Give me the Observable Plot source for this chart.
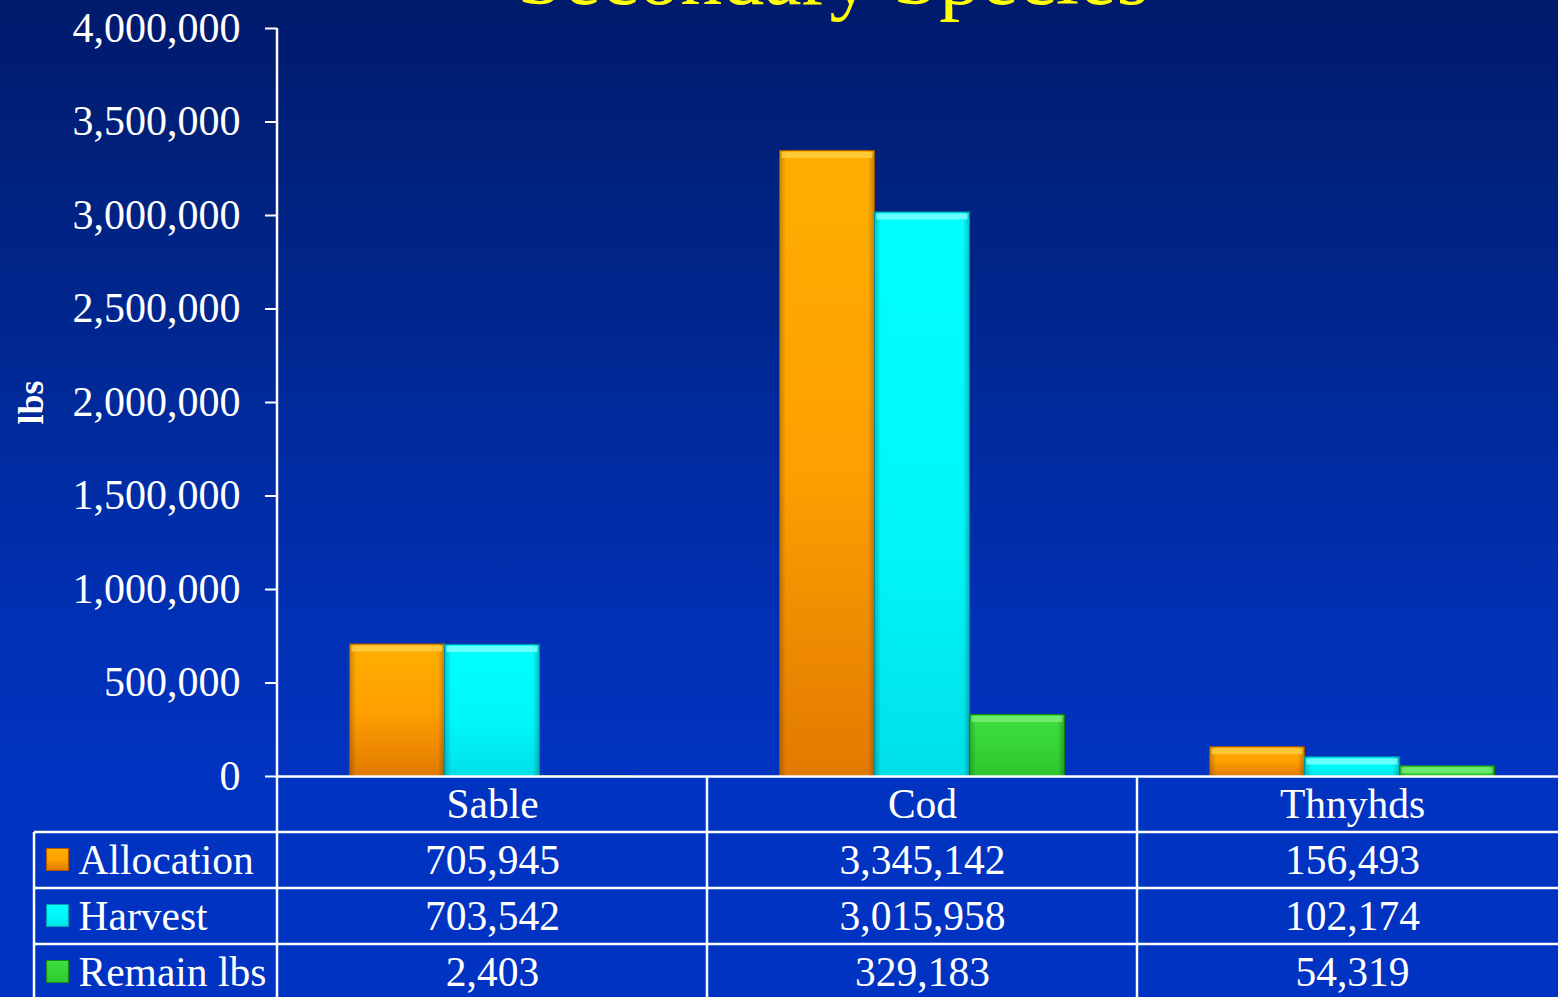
<!DOCTYPE html>
<html>
<head>
<meta charset="utf-8">
<script src="https://cdn.jsdelivr.net/npm/d3@7"></script>
<script src="https://cdn.jsdelivr.net/npm/@observablehq/plot@0.6"></script>
<style>
  html, body { margin: 0; padding: 0; width: 1558px; height: 997px; overflow: hidden; }
  body {
    background: linear-gradient(to bottom, #001a6c 0%, #001f78 12%, #00258a 28%, #002ba0 45%, #0030b4 62%, #0033c0 78%, #0033c2 100%);
  }
  #chart svg { display: block; }
</style>
</head>
<body>
<div id="chart"></div>
<script>
// ---- data ----
const categories = ["Sable", "Cod", "Thnyhds"];
const seriesNames = ["Allocation", "Harvest", "Remain lbs"];
const allocation = [705945, 3345142, 156493];
const harvest = [703542, 3015958, 102174];
const remainLbs = [2403, 329183, 54319];
const yTicks = [0, 500000, 1000000, 1500000, 2000000, 2500000, 3000000, 3500000, 4000000];
const titleText = "Secondary Species";
const yLabel = "lbs";

const seriesValues = [allocation, harvest, remainLbs];
const gradIds = ["gAlloc", "gHarv", "gRem"];
const edgeColors = ["#b05a00", "#00a0b0", "#1a8a1a"];
const capColors = ["#ffd24a", "#8cffff", "#7df07d"];

const rows = [];
seriesNames.forEach((s, i) => categories.forEach((c, j) => rows.push({series: s, si: i, category: c, value: seriesValues[i][j]})));

const fmt = d3.format(",");
const font = "'Liberation Serif', 'Times New Roman', serif";
const rowH = 56;
const legendW = 243;
const barW = 95;

function tableGrid(index, scales, values, dims) {
  const x = scales.x;
  const top = dims.height - dims.marginBottom;
  const left = dims.marginLeft;
  const g = d3.create("svg:g").attr("stroke", "white").attr("stroke-width", 2.5).attr("fill", "none");
  g.append("line").attr("x1", left).attr("x2", left).attr("y1", dims.marginTop).attr("y2", dims.height);
  categories.forEach(c => {
    const x0 = x(c);
    if (Math.abs(x0 - left) > 1) g.append("line").attr("x1", x0).attr("x2", x0).attr("y1", top).attr("y2", dims.height);
  });
  for (let i = 1; i <= 3; i++) {
    const yy = top + rowH * i;
    g.append("line").attr("x1", left - legendW).attr("x2", dims.width).attr("y1", yy).attr("y2", yy);
  }
  g.append("line").attr("x1", left - legendW).attr("x2", left - legendW).attr("y1", top + rowH).attr("y2", dims.height);
  return g.node();
}

const marks = [];

// bars
seriesNames.forEach((s, i) => {
  const data = rows.filter(r => r.si === i);
  const inset = (430 - barW) / 2;
  const dx = (i - 1) * barW;
  marks.push(Plot.barY(data, {x: "category", y: "value", fill: `url(#${gradIds[i]})`, stroke: edgeColors[i], strokeWidth: 1, dx, insetLeft: inset, insetRight: inset}));
  marks.push(Plot.barY(data, {x: "category", y: "value", fill: "url(#gSide)", dx, insetLeft: inset, insetRight: inset}));
  marks.push(Plot.tickY(data.filter(d => d.value > 20000), {x: "category", y: "value", stroke: capColors[i], strokeWidth: 6, strokeOpacity: 0.75, dx, dy: 4, insetLeft: inset + 2, insetRight: inset + 2}));
});

marks.push(Plot.ruleY([0], {stroke: "white", strokeWidth: 2.5}));
marks.push(tableGrid);

marks.push(Plot.axisY({ticks: yTicks, tickFormat: fmt, tickSize: 12, tickPadding: 25, fontSize: 42, stroke: "white", strokeWidth: 2, fill: "white", label: null}));

// y label
marks.push(Plot.text([yLabel], {text: d => d, frameAnchor: "left", dx: -235, rotate: -90, textAnchor: "middle", lineAnchor: "bottom", fontSize: 36, fontWeight: "bold", fill: "white"}));

// title
marks.push(Plot.text([titleText], {text: d => d, frameAnchor: "top", dx: -85, dy: -25, textAnchor: "middle", lineAnchor: "bottom", fontSize: 84, fill: "#ffff00"}));

// table header
marks.push(Plot.text(categories, {x: d => d, text: d => d, frameAnchor: "bottom", dy: 28, lineAnchor: "middle", fontSize: 41.5, fill: "white"}));

// table rows
seriesNames.forEach((s, i) => {
  const data = rows.filter(r => r.si === i);
  const dy = 84 + rowH * i;
  marks.push(Plot.text(data, {x: "category", text: d => fmt(d.value), frameAnchor: "bottom", dy, lineAnchor: "middle", fontSize: 41.5, fill: "white"}));
  marks.push(Plot.text([s], {text: d => d, frameAnchor: "bottom-left", dx: -199, dy, textAnchor: "start", lineAnchor: "middle", fontSize: 41.5, fill: "white"}));
  marks.push(Plot.dot([s], {frameAnchor: "bottom-left", dx: -220, dy: dy - 1, symbol: "square", r: 12.4, fill: `url(#${gradIds[i]})`, stroke: edgeColors[i], strokeWidth: 1.2}));
});

const chart = Plot.plot({
  width: 1558,
  height: 997,
  marginTop: 28,
  marginBottom: 221,
  marginLeft: 277,
  marginRight: 0,
  style: {background: "transparent", color: "white", fontFamily: font, overflow: "visible"},
  x: {domain: categories, range: [277, 1567], padding: 0, axis: null},
  y: {domain: [0, 4000000], axis: null},
  marks
});

const svg = d3.select(chart);
const defs = svg.insert("defs", ":first-child");
function vGrad(id, stops) {
  const lg = defs.append("linearGradient").attr("id", id).attr("x1", 0).attr("x2", 0).attr("y1", 0).attr("y2", 1);
  stops.forEach(([o, c]) => lg.append("stop").attr("offset", o).attr("stop-color", c));
}
vGrad("gAlloc", [[0, "#ffae00"], [0.5, "#ffa000"], [1, "#e27a00"]]);
vGrad("gHarv", [[0, "#00ffff"], [0.6, "#00f6f8"], [1, "#00e0e8"]]);
vGrad("gRem", [[0, "#3ee03e"], [1, "#2ec82e"]]);
const side = defs.append("linearGradient").attr("id", "gSide").attr("x1", 0).attr("x2", 1).attr("y1", 0).attr("y2", 0);
[[0, 0.22], [0.07, 0], [0.93, 0], [1, 0.25]].forEach(([o, op]) => {
  side.append("stop").attr("offset", o).attr("stop-color", "#000").attr("stop-opacity", op);
});

document.getElementById("chart").appendChild(chart);
</script>
</body>
</html>
